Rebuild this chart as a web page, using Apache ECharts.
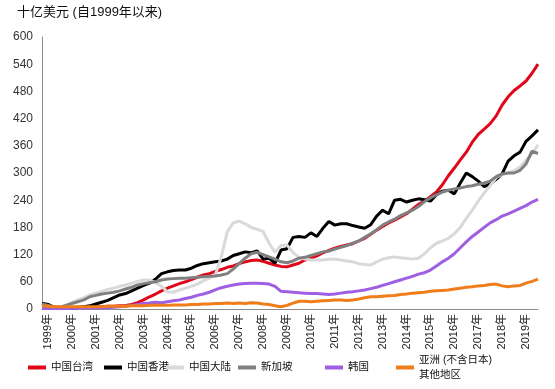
<!DOCTYPE html>
<html><head><meta charset="utf-8">
<script src="https://cdn.jsdelivr.net/npm/echarts@6/dist/echarts.min.js"></script>
<style>html,body{margin:0;padding:0;background:#fff}#c{width:555px;height:389px}</style>
</head><body><div id="c"></div>
<script>
const years = [1999,2000,2001,2002,2003,2004,2005,2006,2007,2008,2009,2010,2011,2012,2013,2014,2015,2016,2017,2018,2019];
const quarters = ['Q1','Q2','Q3','Q4'];
const yTicks = [0,60,120,180,240,300,360,420,480,540,600];
const names = ['中国台湾','中国香港','中国大陆','新加坡','韩国','亚洲 (不含日本)\n其他地区'];

const taiwan = [
2,2,3,3, 3,3,4,4, 4,5,5,6, 6,7,8,10, 14,20,27,33, 40,46,51,56, 60,65,70,75,
78,83,87,92, 95,100,104,107, 108,105,101,97, 94,93,97,101, 108,112,117,124,
129,134,138,141, 144,150,156,165, 174,182,190,196, 203,210,220,231,
238,248,258,274, 294,311,329,346, 368,385,397,409, 426,450,468,482, 492,503,520,540];
const hongkong = [
13,10,4,1, 1,2,3,5, 7,11,15,19, 25,31,34,40, 46,52,57,66, 78,82,85,86, 86,90,96,100,
102,104,106,110, 118,122,126,124, 128,110,112,101, 130,133,158,160, 158,168,160,178,
193,185,188,188, 184,181,178,186, 205,218,210,240, 242,236,240,243,
241,238,252,260, 262,254,278,300, 292,282,270,276, 286,298,326,338, 346,370,382,395];
const mainland = [
3,2,2,3, 8,14,20,25, 31,35,39,43, 46,50,53,57, 61,64,64,58, 50,38,37,42, 46,50,55,62,
68,75,115,170, 190,194,188,180, 176,171,145,125, 140,141,125,114, 110,108,108,108,
110,110,108,106, 104,100,98,97, 104,110,113,115, 113,112,110,112,
122,135,145,150, 156,166,180,200, 218,238,256,272, 290,297,300,305, 314,328,342,362];
const singapore = [
11,8,5,4, 8,12,16,20, 27,30,33,35, 37,40,44,48, 53,56,58,60, 64,66,67,68, 68,69,70,71,
72,73,75,78, 88,100,112,122, 125,120,115,110, 104,102,106,112, 114,118,122,126,
128,132,136,140, 145,150,158,166, 175,185,192,198, 206,212,218,226,
237,245,252,258, 262,265,267,270, 272,275,278,282, 292,298,300,300, 306,320,348,343];
const korea = [
1,1,1,1, 1,1,2,2, 2,2,3,3, 4,5,6,8, 10,12,13,15, 14,16,18,20, 23,26,30,33,
37,42,47,50, 53,55,56,57, 57,56,55,50, 39,38,37,36, 35,34,34,33,
32,33,35,37, 38,40,42,45, 48,52,56,60, 64,68,72,77,
80,86,95,104, 112,122,135,148, 160,170,180,190, 197,205,210,216, 222,228,236,242];
const otherAsia = [
7,6,5,5, 5,5,5,5, 5,5,5,6, 6,6,6,7, 7,7,8,8, 8,8,9,9, 9,10,10,11,
11,12,12,13, 12,13,12,14, 13,11,10,7, 5,8,13,17, 17,16,17,18,
19,20,20,19, 20,22,25,27, 27,28,29,30, 32,33,35,36,
37,39,40,41, 42,44,46,48, 49,51,52,54, 55,51,49,51, 52,57,61,66];

const seriesValues = [taiwan, hongkong, mainland, singapore, korea, otherAsia];
const colors = ['#e2061a','#000000','#d9d9d9','#808080','#9e5fe3','#ef7d1a'];

const categories = [];
years.forEach(y => quarters.forEach(q => categories.push(y + '-' + q)));

const FONT = "'Liberation Sans', Arial, 'Noto Sans CJK SC', sans-serif";
const legendLefts = [28, 104, 166, 238, 325, 396];

const legends = names.map((n, i) => {
  const two = n.indexOf('\n') >= 0;
  return {
    data: [n], left: legendLefts[i], top: two ? 345 : 360, padding: 0,
    icon: 'rect', itemWidth: 18, itemHeight: 4,
    selectedMode: false,
    textStyle: { fontSize: 10.5, color: '#111', fontFamily: FONT, lineHeight: 15,
      padding: two ? [15, 0, 0, 0] : 0 }
  };
});

const chart = echarts.init(document.getElementById('c'), null, { renderer: 'canvas' });
chart.setOption({
  animation: false,
  backgroundColor: '#fff',
  title: { text: '十亿美元 (自1999年以来)', left: 12, top: 1,
    textStyle: { fontSize: 13, fontWeight: 'normal', color: '#111', fontFamily: FONT } },
  legend: legends,
  grid: { left: 42, right: 17, top: 37, bottom: 80, containLabel: false },
  xAxis: {
    type: 'category', data: categories, boundaryGap: false,
    axisLine: { lineStyle: { color: '#8c8c8c', width: 1 } },
    axisTick: { show: false },
    axisLabel: {
      rotate: 90, fontSize: 11, color: '#222', fontFamily: FONT, margin: 5,
      padding: [6, 0, 0, 0],
      interval: (idx) => idx % 4 === 1,
      formatter: (v) => v.slice(0, 4) + '年'
    },
    splitLine: { show: false }
  },
  yAxis: {
    type: 'value', min: yTicks[0], max: yTicks[yTicks.length - 1], interval: yTicks[1] - yTicks[0],
    axisLine: { show: true, lineStyle: { color: '#8c8c8c', width: 1 } },
    axisTick: { show: false },
    splitLine: { show: false },
    axisLabel: { fontSize: 12, color: '#333', fontFamily: FONT, margin: 9 }
  },
  series: names.map((n, i) => ({
    name: n, type: 'line', data: seriesValues[i], symbol: 'none', smooth: false,
    lineStyle: { color: colors[i], width: 3 }, itemStyle: { color: colors[i] },
    z: 2 + i
  }))
});
</script></body></html>
